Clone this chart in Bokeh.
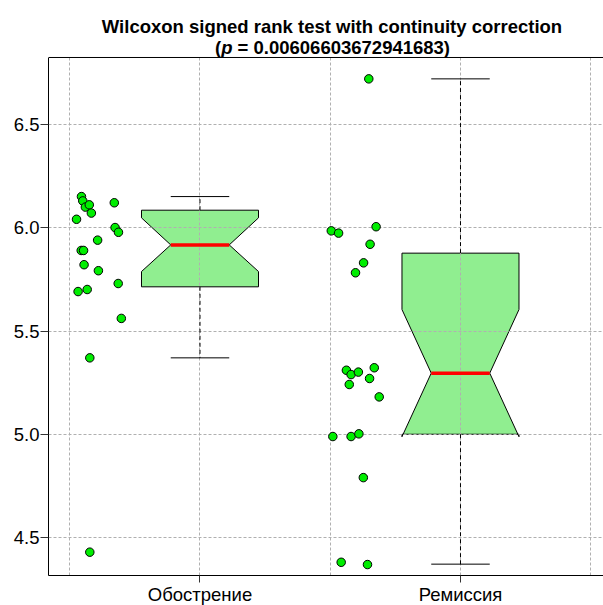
from bokeh.plotting import figure
from bokeh.models import FixedTicker, Range1d, Span, BoxAnnotation
from bokeh.core.properties import value
from bokeh.embed import file_html
from bokeh.resources import INLINE

# ---------------- data ----------------
groups = ["Обострение", "Ремиссия"]
group_pos = [1, 2]

exac_x = [0.545, 0.550, 0.526, 0.560, 0.575, 0.583, 0.671, 0.674, 0.687, 0.607,
          0.544, 0.553, 0.555, 0.610, 0.686, 0.532, 0.567, 0.698, 0.577, 0.577]
exac_y = [6.151, 6.130, 6.041, 6.100, 6.111, 6.071, 6.121, 6.001, 5.978, 5.940,
          5.890, 5.890, 5.821, 5.792, 5.730, 5.691, 5.701, 5.561, 5.370, 4.429]

rem_x = [1.648, 1.504, 1.532, 1.676, 1.653, 1.628, 1.597, 1.562, 1.580, 1.608,
         1.669, 1.651, 1.573, 1.688, 1.510, 1.580, 1.610, 1.627, 1.542, 1.643]
rem_y = [6.721, 5.985, 5.974, 6.005, 5.920, 5.830, 5.782, 5.310, 5.289, 5.301,
         5.322, 5.270, 5.241, 5.181, 4.989, 4.989, 5.002, 4.790, 4.380, 4.369]

whisker_lo = [5.370, 4.371]
q1 = [5.714, 5.000]
notch_lo = [5.788, 4.988]
median = [5.917, 5.296]
notch_hi = [6.048, 5.604]
q3 = [6.085, 5.877]
whisker_hi = [6.151, 6.721]

y_ticks = [4.5, 5.0, 5.5, 6.0, 6.5]
y_tick_labels = ["4.5", "5.0", "5.5", "6.0", "6.5"]
x_grid = [0.5, 1.0, 1.5, 2.0, 2.5]

title_line1 = "Wilcoxon signed rank test with continuity correction"
p_value = "0.00606603672941683"

# ---------------- layout / style ----------------
HW = 0.2246            # half box width (data units)
FONT = "Liberation Sans"
X0, X1 = 0.41843, 2.549
Y0, Y1 = 4.316, 7.1005  # frame reaches top of canvas; plot box ends at Y_BOX
Y_BOX = 6.8245
NBSP = "\u00a0"

p = figure(frame_width=555, frame_height=575,
           min_border_left=48, min_border_right=0, min_border_top=0, min_border_bottom=5,
           x_range=Range1d(X0, X1), y_range=Range1d(Y0, Y1),
           output_backend="svg", toolbar_location=None)

p.outline_line_color = None
p.background_fill_color = "white"
p.border_fill_color = "white"

# axes
p.xaxis.ticker = FixedTicker(ticks=group_pos)
p.xaxis.major_label_overrides = {k: v for k, v in zip(group_pos, groups)}
p.yaxis.ticker = FixedTicker(ticks=y_ticks)
p.yaxis.major_label_overrides = {k: v for k, v in zip(y_ticks, y_tick_labels)}
p.yaxis.bounds = (Y0, Y_BOX)
for ax in (p.xaxis[0], p.yaxis[0]):
    ax.axis_line_color = "black"
    ax.axis_line_width = 1
    ax.major_tick_line_color = "#333333"
    ax.major_tick_in = 0
    ax.minor_tick_line_color = None
    ax.major_label_text_font = FONT
    ax.major_label_text_font_size = "18.5px"
    ax.major_label_text_color = "black"
p.yaxis.major_tick_out = 8
p.yaxis.major_label_standoff = 1
p.xaxis.major_tick_out = 7
p.xaxis.major_label_standoff = 1

# grid
p.xgrid.ticker = FixedTicker(ticks=x_grid)
p.ygrid.ticker = FixedTicker(ticks=y_ticks)
for g in (p.xgrid[0], p.ygrid[0]):
    g.grid_line_color = "#b0b0b0"
    g.grid_line_dash = "3 2"
    g.grid_line_width = 1
    g.level = "glyph"

# notched boxes
xs, ys = [], []
for i, x in enumerate(group_pos):
    xs.append([x - HW, x - HW, x - HW / 2, x - HW, x - HW,
               x + HW, x + HW, x + HW / 2, x + HW, x + HW])
    ys.append([q1[i], notch_lo[i], median[i], notch_hi[i], q3[i],
               q3[i], notch_hi[i], median[i], notch_lo[i], q1[i]])
p.patches(xs, ys, fill_color="#90EE90", line_color="black", line_width=1, level="underlay")

# whiskers
p.segment(x0=group_pos, y0=q3, x1=group_pos, y1=whisker_hi, line_color="black",
          line_dash="4 3", line_width=1, level="annotation")
p.segment(x0=group_pos, y0=q1, x1=group_pos, y1=whisker_lo, line_color="black",
          line_dash="4 3", line_width=1, level="annotation")
caps_x0 = [x - HW / 2 for x in group_pos]
caps_x1 = [x + HW / 2 for x in group_pos]
p.segment(x0=caps_x0, y0=whisker_hi, x1=caps_x1, y1=whisker_hi, line_color="black",
          line_width=1, level="annotation")
p.segment(x0=caps_x0, y0=whisker_lo, x1=caps_x1, y1=whisker_lo, line_color="black",
          line_width=1, level="annotation")
# medians
p.segment(x0=caps_x0, y0=median, x1=caps_x1, y1=median, line_color="red",
          line_width=3.5, level="annotation")

# points
p.scatter(exac_x, exac_y, size=8.5, fill_color="#00ee00", line_color="black",
          line_width=1, level="annotation")
p.scatter(rem_x, rem_y, size=8.5, fill_color="#00ee00", line_color="black",
          line_width=1, level="annotation")

# area above the plot box: cover grid, draw box top line, title
p.add_layout(BoxAnnotation(bottom=Y_BOX, fill_color="white", fill_alpha=1.0,
                           line_color=None, level="annotation"))
p.add_layout(Span(location=Y_BOX, dimension="width", line_color="black",
                  line_width=1, level="overlay"))

tcommon = dict(text_font=value(FONT), text_font_size="18.5px",
               text_baseline="alphabetic", text_color="black", level="overlay")
p.text(x=[1.5067], y=[6.977], text=[title_line1], text_align="center",
       text_font_style="bold", **tcommon)
p.text(x=[1.0576], y=[6.8705], text=["("], text_align="left",
       text_font_style="bold", **tcommon)
p.text(x=[1.0812], y=[6.8705], text=["p"], text_align="left",
       text_font_style="bold italic", **tcommon)
p.text(x=[1.1246], y=[6.8705], text=[NBSP + "=" + NBSP + p_value + ")"], text_align="left",
       text_font_style="bold", **tcommon)

open("out.html", "w").write(file_html(p, INLINE))
